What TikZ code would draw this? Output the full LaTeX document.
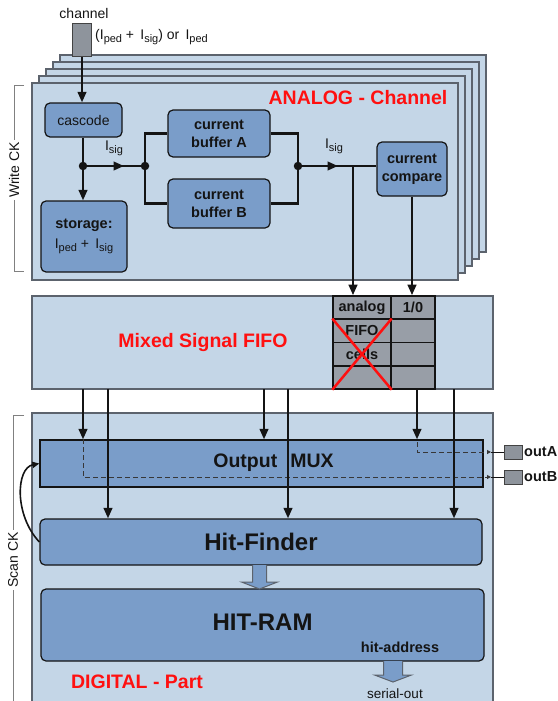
\documentclass[tikz,border=0pt]{standalone}
\usepackage{fontspec}
\setmainfont{Liberation Sans}
\usetikzlibrary{arrows.meta,calc}
\definecolor{lb}{HTML}{C4D6E7}
\definecolor{bd}{HTML}{5C636D}
\definecolor{mb}{HTML}{7A9DC9}
\definecolor{cg}{HTML}{989EA7}
\definecolor{pg}{HTML}{8E949C}
\definecolor{ink}{HTML}{141414}
\definecolor{rd}{HTML}{FF1010}
\newcommand\mysub[1]{\raisebox{-3pt}{\fontsize{11}{12}\selectfont #1}}
\tikzset{
  lbox/.style={draw=bd, line width=1.1pt, fill=lb, inner sep=0pt},
  blk/.style={draw=ink, line width=1.2pt, fill=mb, rounded corners=5pt, inner sep=0pt, align=center, text=ink},
  sqblk/.style={draw=ink, line width=1.2pt, fill=mb, inner sep=0pt, align=center, text=ink},
  padbox/.style={draw=ink!80, line width=1pt, fill=pg, inner sep=0pt},
  cellbox/.style={draw=ink, line width=1.5pt, fill=cg, inner sep=0pt, minimum height=23.25pt, text=ink, font=\fontsize{14.5}{17}\selectfont\bfseries},
  rg/.style={font=\fontsize{14}{17}\selectfont, text=ink},
  bd14/.style={font=\fontsize{14.5}{18}\selectfont\bfseries, text=ink},
  big/.style={font=\fontsize{19.5}{22}\selectfont\bfseries},
  huge/.style={font=\fontsize{24}{28}\selectfont\bfseries, text=ink},
  redlbl/.style={big, text=rd},
  wire/.style={line width=2.4pt, ink},
  arr/.style={wire, -{Triangle[length=10.5pt,width=8.5pt]}},
  dsh/.style={line width=1pt, ink!85, dash pattern=on 5pt off 3pt},
  thinw/.style={line width=1pt, ink},
  brk/.style={line width=1pt, gray},
  fat/.style={draw=bd, line width=1pt, fill=mb},
  dot/.style={circle, fill=ink, inner sep=0pt, minimum size=8.5pt}
}
\begin{document}
\begin{tikzpicture}[x=1pt,y=-1pt]
\useasboundingbox (0,0) rectangle (557,701);

% ---------- analog stack ----------
\foreach \k in {4,3,2,1}{
  \draw[lbox] ({32+7*\k},{83-7*\k}) rectangle ({458+7*\k},{280-7*\k});
}
\node[lbox, minimum width=426pt, minimum height=197pt] (analog) at (245,181.5) {};
\node[redlbl] (analoglbl) at (358,98) {ANALOG - Channel};

% channel input
\node[padbox, minimum width=19pt, minimum height=33pt] (pad) at (82,40.5) {};
\node[rg] (chlbl) at (84,13) {channel};
\node[rg, anchor=west, inner sep=0pt] (inlbl) at (95,37) {(I\mysub{ped} + \,I\mysub{sig}) or \,I\mysub{ped}};

\node[blk, rg, minimum width=77pt, minimum height=34pt] (cascode) at (83.5,120) {cascode};
\node[blk, minimum width=86pt, minimum height=71pt] (storage) at (84,236.5) {};
\node[bd14] (stlbl) at (84,225) {storage:};
\node[rg] (stval) at (84,246) {I\mysub{ped} + \,I\mysub{sig}};
\node[blk, bd14, minimum width=102pt, minimum height=47pt] (bufA) at (219,133.5) {current\\buffer A};
\node[blk, bd14, minimum width=102pt, minimum height=49pt] (bufB) at (219,203.5) {current\\buffer B};
\node[blk, bd14, minimum width=70pt, minimum height=54pt] (cmp) at (412,169) {current\\compare};

\coordinate (j1) at (83,166);
\coordinate (j2) at (145,166);
\coordinate (j3) at (298,166);
\coordinate (j4) at (353,166);

% ---------- FIFO ----------
\node[lbox, minimum width=461pt, minimum height=93pt] (fifo) at (262.5,342.5) {};
\node[redlbl] (fifolbl) at (203,342) {Mixed Signal FIFO};
\node[cellbox, minimum width=58pt] (c11) at (362,307.6) {analog};
\node[cellbox, minimum width=44pt] (c12) at (413,307.6) {1/0};
\node[cellbox, minimum width=58pt] (c21) at (362,330.9) {FIFO};
\node[cellbox, minimum width=44pt] (c22) at (413,330.9) {};
\node[cellbox, minimum width=58pt] (c31) at (362,354.1) {cells};
\node[cellbox, minimum width=44pt] (c32) at (413,354.1) {};
\node[cellbox, minimum width=58pt] (c41) at (362,377.4) {};
\node[cellbox, minimum width=44pt] (c42) at (413,377.4) {};
\draw[rd, line width=2.5pt] (c21.north west) -- (c41.south east);
\draw[rd, line width=2.5pt] (c21.north east) -- (c41.south west);

% ---------- analog wiring ----------
\draw[arr] (pad.south) -- (pad.south |- cascode.north);
\draw[wire] (cascode.south -| j1) -- (j1);
\draw[arr] (j1) -- (j1 |- storage.north);
\draw[wire] (j1) -- (j2);
\draw[arr] (j1) -- (124,166);
\node[rg] (isig1) at (114,148) {I\mysub{sig}};
\draw[wire] (bufA.west) -| (j2) |- (bufB.west);
\draw[wire] (bufA.east) -| (j3) |- (bufB.east);
\draw[wire] (j3) -- (j3 -| cmp.west);
\draw[arr] (j3) -- (338,166);
\node[rg] (isig2) at (334,146) {I\mysub{sig}};
\draw[arr] (j4) -- (j4 |- c11.north);
\draw[arr] (cmp.south) -- (cmp.south |- c12.north);
\node[dot] at (j1) {};
\node[dot] at (j2) {};
\node[dot] at (j3) {};

% ---------- digital ----------
\node[lbox, minimum width=461pt, minimum height=293pt] (digital) at (262.5,559.5) {};
\node[sqblk, minimum width=443pt, minimum height=47pt] (mux) at (261.5,463.5) {};
\node[big, text=ink] (muxlbl) at (273.5,463) {Output\hspace{13pt}MUX};
\node[blk, huge, minimum width=442pt, minimum height=46pt] (hit) at (261,542) {Hit-Finder};
\node[blk, minimum width=443pt, minimum height=72pt] (ram) at (262.5,625) {};
\node[huge] (ramlbl) at (262.5,622) {HIT-RAM};
\node[bd14] (addr) at (400,647) {hit-address};
\node[redlbl] (diglbl) at (137,682) {DIGITAL - Part};

\foreach \x/\n in {83/1,108/2,264/3,288/4,417/5,454/6}
  \coordinate (f\n) at (\x,389);

% dashed paths inside MUX
\coordinate (eA) at (491,452);
\coordinate (eB) at (491,477);
\node[padbox, minimum width=18pt, minimum height=14pt] (outA) at (513,452) {};
\node[padbox, minimum width=18pt, minimum height=14pt] (outB) at (513,477.5) {};
\node[bd14, anchor=west, inner sep=0pt] (outAl) at (524,452) {outA};
\node[bd14, anchor=west, inner sep=0pt] (outBl) at (524,477) {outB};
\draw[dsh, -{Triangle[length=4pt,width=4pt]}] (f1 |- mux.north) |- (eB);
\draw[dsh, -{Triangle[length=4pt,width=4pt]}] (417,442) |- (eA);
\draw[thinw] (eA) -- (outA.west);
\draw[thinw] (eB) -- (outB.west |- eB);

\draw[arr] (f1) -- (f1 |- mux.north);
\draw[arr] (f3) -- (f3 |- mux.north);
\draw[arr] (f5) -- (f5 |- mux.north);
\draw[arr] (f2) -- (f2 |- hit.north);
\draw[arr] (f4) -- (f4 |- hit.north);
\draw[arr] (f6) -- (f6 |- hit.north);

% loop arrow
\draw[line width=1.6pt, ink, -{Triangle[length=7pt,width=6pt]}] (hit.west) .. controls (14,515) and (16,468) .. (mux.west);

% fat arrows
\draw[fat] (252.5,565) -- (252.5,582) -- (241.5,582) -- (259.5,589) -- (277.5,582) -- (266.5,582) -- (266.5,565);
\draw[fat] (383.5,661) -- (383.5,675) -- (374.5,675) -- (393,682) -- (411.5,675) -- (402.5,675) -- (402.5,661);
\node[font=\fontsize{13.5}{16}\selectfont, text=ink] (serial) at (395,694) {serial-out};

% brackets
\draw[brk] (24,85) -- (14,85) -- (14,271) -- (24,271);
\node[rg, rotate=90, fill=white, inner sep=2pt] (wck) at (14,170) {Write CK};
\draw[brk] (24,415) -- (13,415) -- (13,706);
\node[rg, rotate=90, fill=white, inner sep=2pt] (sck) at (13,560) {Scan CK};
\end{tikzpicture}
\end{document}
